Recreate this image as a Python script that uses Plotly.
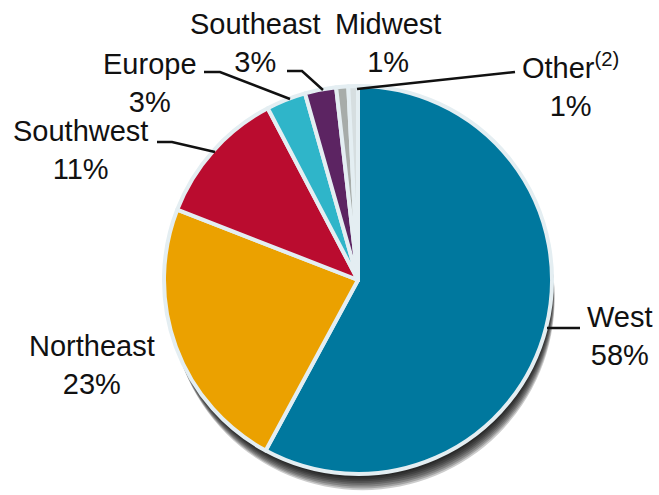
import plotly.graph_objects as go

W, H = 659, 495

regions = ["West", "Northeast", "Southwest", "Europe", "Southeast", "Midwest", "Other"]
shares = [57.9, 23.0, 11.4, 3.3, 2.6, 1.0, 0.8]
colors = ["#00789E", "#EBA100", "#BA0C2F", "#2FB5C9", "#5C2462", "#A7ACA9", "#D6DEE0"]
label_names = ["West", "Northeast", "Southwest", "Europe", "Southeast", "Midwest", "Other<sup>(2)</sup>"]

# pie geometry in pixels
CX, CY, R = 358, 280, 194


def dom(cx, cy, r):
    return dict(x=[(cx - r) / W, (cx + r) / W], y=[1 - (cy + r) / H, 1 - (cy - r) / H])


fig = go.Figure()

# fake drop shadow: stacked translucent discs, heavier toward the bottom
for i in range(1, 10):
    fig.add_trace(go.Pie(
        values=[1], labels=[f"shadow{i}"], sort=False, textinfo="none", hoverinfo="skip",
        marker=dict(colors=["rgba(0,0,0,0.2)"], line=dict(width=0)),
        domain=dom(CX + 0.5 * i, CY + 2.0 * i, R - 0.2 * i), showlegend=False,
    ))

fig.add_trace(go.Pie(
    labels=regions, values=shares, sort=False, direction="clockwise", rotation=0,
    textinfo="none", marker=dict(colors=colors, line=dict(color="#E4EEF2", width=4)),
    domain=dom(CX, CY, R), showlegend=False,
))

# label centres (px) and leader lines
label_pos = {
    "West": (620, 336),
    "Northeast": (92, 365),
    "Southwest": (80, 150),
    "Europe": (150, 83),
    "Southeast": (255, 43),
    "Midwest": (388, 43),
    "Other": (570, 85),
}
leaders = {
    "West": [(547, 328), (580, 328)],
    "Southwest": [(157, 142), (172, 142), (215, 152)],
    "Europe": [(204, 72), (220, 72), (290, 99)],
    "Southeast": [(287, 71), (302, 71), (323, 90)],
    "Other": [(357, 89), (515, 72)],
}

for reg, name, v in zip(regions, label_names, shares):
    x, y = label_pos[reg]
    fig.add_annotation(
        x=x / W, y=1 - y / H, xref="paper", yref="paper", showarrow=False,
        text=f"{name}<br>{round(v)}%", align="center", xanchor="center", yanchor="middle",
        font=dict(family="Liberation Sans, Arial", size=29, color="#111111"),
    )

for reg, pts in leaders.items():
    path = "M " + " L ".join(f"{px / W},{1 - py / H}" for px, py in pts)
    fig.add_shape(type="path", path=path, xref="paper", yref="paper",
                  line=dict(color="#111111", width=2.5))

fig.update_layout(
    width=W, height=H, margin=dict(l=0, r=0, t=0, b=0),
    paper_bgcolor="white", plot_bgcolor="white",
)

fig.write_html("out.html", config={"displayModeBar": False},
               post_script="document.body.style.margin='0';")
